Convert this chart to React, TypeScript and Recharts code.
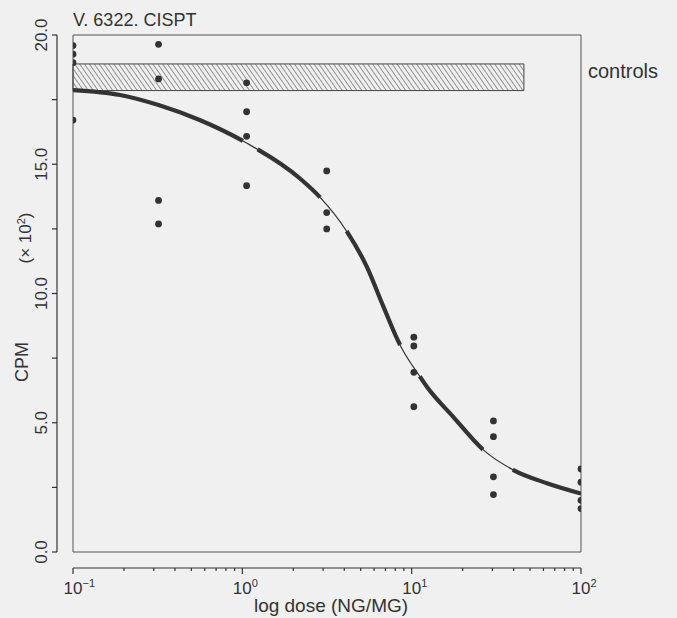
import React from 'react';
import { ComposedChart, Line, Scatter, XAxis, YAxis, ReferenceArea, Customized } from 'recharts';

// ---- axis ticks ----
const doseTicks = [0.1, 0.2, 0.3, 0.4, 0.5, 0.6, 0.7, 0.8, 0.9, 1, 2, 3, 4, 5, 6, 7, 8, 9, 10, 20, 30, 40, 50, 60, 70, 80, 90, 100];
const majorDoseTicks = [0.1, 1, 10, 100];
const majorDoseExponents = ['\u22121', '0', '1', '2'];
const cpmTicks = [0, 2.5, 5, 7.5, 10, 12.5, 15, 17.5, 20];
const cpmLabelTicks = [0, 5, 10, 15, 20];

// ---- observed points (dose ng/mg, CPM x10^2) ----
const obsDose = [0.1, 0.1, 0.1, 0.1, 0.32, 0.32, 0.32, 0.32, 1.06, 1.06, 1.06, 1.06, 3.15, 3.15, 3.15, 10.3, 10.3, 10.3, 10.3, 30.4, 30.4, 30.4, 30.4, 100, 100, 100, 100];
const obsCpm = [19.59, 19.26, 18.93, 16.71, 19.64, 18.3, 13.6, 12.69, 18.15, 17.03, 16.08, 14.17, 14.74, 13.13, 12.5, 8.31, 7.97, 6.95, 5.62, 5.07, 4.46, 2.91, 2.22, 3.21, 2.7, 2.0, 1.68];

// ---- fitted curve ----
const fitDose = [0.1, 0.19, 0.32, 0.56, 1.06, 2.19, 2.88, 4.14, 5.43, 6.81, 8.55, 11.2, 12.3, 17.6, 26.5, 39.9, 62.9, 100];
const fitCpm = [17.87, 17.68, 17.29, 16.71, 15.82, 14.45, 13.72, 12.4, 11.04, 9.49, 8.0, 6.78, 6.39, 5.23, 3.95, 3.17, 2.66, 2.26];

// ---- controls band ----
const controlsLow = 17.85;
const controlsHigh = 18.88;
const controlsDoseEnd = 46;

const observed = obsDose.map((d, i) => ({ dose: d, cpm: obsCpm[i] }));
const fit = fitDose.map((d, i) => ({ dose: d, cpm: fitCpm[i] }));

const FONT = '"Liberation Sans", Arial, Helvetica, sans-serif';
const INK = '#333';

const XTick = (props: any) => {
  const { x, y, payload } = props;
  const v = payload.value;
  const idx = majorDoseTicks.indexOf(v);
  const major = idx >= 0;
  const ly = y + 16;
  return (
    <g>
      <line x1={x} y1={ly} x2={x} y2={ly + (major ? 6 : 3)} stroke={INK} strokeWidth={1.2} />
      {major && (
        <text x={x} y={y + 42} textAnchor="middle" fontSize={17} fontFamily={FONT} fill={INK}>10</text>
      )}
      {major && (
        <text x={x + 9.5} y={y + 35} textAnchor="start" fontSize={11} fontFamily={FONT} fill={INK}>
          {majorDoseExponents[idx]}
        </text>
      )}
    </g>
  );
};

const YTick = (props: any) => {
  const { x, y, payload } = props;
  const v = payload.value;
  const lx = x - 16;
  const showLabel = cpmLabelTicks.indexOf(v) >= 0;
  return (
    <g>
      <line x1={lx - 5} y1={y} x2={lx} y2={y} stroke={INK} strokeWidth={1.2} />
      {showLabel && (
        <text
          x={x - 26}
          y={y}
          transform={`rotate(-90 ${x - 26} ${y})`}
          textAnchor="middle"
          fontSize={17}
          fontFamily={FONT}
          fill={INK}
        >
          {v.toFixed(1)}
        </text>
      )}
    </g>
  );
};

const Texts = () => (
  <g fontFamily={FONT} fill={INK}>
    <text x={73} y={26} fontSize={18}>V. 6322. CISPT</text>
    <text x={588} y={78} fontSize={20}>controls</text>
    <text x={28} y={362} fontSize={18} textAnchor="middle" transform="rotate(-90 28 362)">CPM</text>
    <text x={31} y={238} fontSize={17} textAnchor="middle" transform="rotate(-90 31 238)">
      (× 10<tspan fontSize={11} dy={-6}>2</tspan><tspan dy={6}>)</tspan>
    </text>
    <text x={331} y={612} fontSize={19} textAnchor="middle">log dose (NG/MG)</text>
  </g>
);

export default function App() {
  return (
    <div style={{ position: 'fixed', left: 0, top: 0, width: 677, height: 618, background: '#f0f0f0' }}>
      <ComposedChart width={677} height={618} margin={{ top: 35, right: 96, bottom: 0, left: 0 }}>
        <defs>
          <pattern id="hatch" patternUnits="userSpaceOnUse" width={4} height={4} patternTransform="rotate(-35)">
            <line x1={0} y1={0} x2={0} y2={4} stroke="#333" strokeWidth={1} />
          </pattern>
        </defs>
        <XAxis
          dataKey="dose"
          type="number"
          scale="log"
          domain={[0.1, 100]}
          ticks={doseTicks}
          interval={0}
          allowDataOverflow
          height={66}
          tickSize={0}
          tickMargin={0}
          tick={<XTick />}
          axisLine={{ stroke: INK, strokeWidth: 1.2, transform: 'translate(0,16)' } as any}
          tickLine={false}
        />
        <YAxis
          dataKey="cpm"
          type="number"
          domain={[0, 20]}
          ticks={cpmTicks}
          interval={0}
          width={73}
          tickSize={0}
          tickMargin={0}
          tick={<YTick />}
          axisLine={{ stroke: INK, strokeWidth: 1.2, transform: 'translate(-16,0)' } as any}
          tickLine={false}
        />
        <ReferenceArea x1={0.1} x2={100} y1={0} y2={20} fill="none" stroke="#555" strokeWidth={1} />
        <ReferenceArea
          x1={0.1}
          x2={controlsDoseEnd}
          y1={controlsLow}
          y2={controlsHigh}
          fill="url(#hatch)"
          fillOpacity={1}
          stroke="#444"
          strokeWidth={1}
        />
        <Line data={fit} dataKey="cpm" type="monotone" stroke={INK} strokeWidth={1.2} dot={false} isAnimationActive={false} />
        <Line
          data={fit}
          dataKey="cpm"
          type="monotone"
          stroke={INK}
          strokeWidth={4.2}
          strokeDasharray="179 17 79 43 126 37 97 36 300"
          dot={false}
          isAnimationActive={false}
        />
        <Scatter
          data={observed}
          dataKey="cpm"
          isAnimationActive={false}
          shape={(p: any) => <circle cx={p.cx} cy={p.cy} r={3.4} fill={INK} />}
        />
        <Customized component={Texts} />
      </ComposedChart>
    </div>
  );
}
